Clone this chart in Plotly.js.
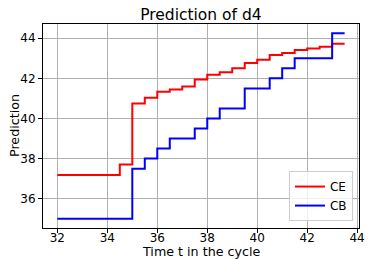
<!DOCTYPE html>
<html>
<head>
<meta charset="utf-8">
<script src="https://cdn.plot.ly/plotly-3.0.1.min.js"></script>
<style>html,body{margin:0;padding:0;background:#fff;}#chart{width:368px;height:259px;}</style>
</head>
<body>
<div id="chart"></div>
<script>
const timeT = [32, 34.5, 35, 35.5, 36, 36.5, 37, 37.5, 38, 38.5, 39, 39.5, 40, 40.5, 41, 41.5, 42, 42.5, 43, 43.5];
const predCE = [37.18, 37.71, 40.75, 41.03, 41.33, 41.44, 41.6, 41.94, 42.18, 42.3, 42.51, 42.76, 42.93, 43.16, 43.26, 43.42, 43.49, 43.58, 43.73, 43.73];
const predCB = [35.0, 35.0, 37.5, 38.0, 38.5, 39.0, 39.0, 39.5, 40.0, 40.5, 40.5, 41.5, 41.5, 42.0, 42.5, 43.0, 43.0, 43.0, 44.25, 44.25];
const xTicks = [32, 34, 36, 38, 40, 42, 44];
const yTicks = [36, 38, 40, 42, 44];
const xLabel = "Time t in the cycle";
const yLabel = "Prediction";

const font = "DejaVu Sans, sans-serif";
const traces = [
  {x: timeT, y: predCE, name: "CE", mode: "lines", line: {shape: "hv", color: "#ff0000", width: 2}},
  {x: timeT, y: predCB, name: "CB", mode: "lines", line: {shape: "hv", color: "#0000ff", width: 2}}
];
const axisCommon = {
  showline: true, mirror: true, linecolor: "#000", linewidth: 1,
  ticks: "outside", ticklen: 4, tickcolor: "#000", tickwidth: 1,
  showgrid: true, gridcolor: "#b0b0b0", gridwidth: 1, zeroline: false,
  tickfont: {family: font, size: 12, color: "#000"}
};
const layout = {
  width: 368, height: 259,
  margin: {l: 43, r: 9, t: 24, b: 31},
  paper_bgcolor: "#fff", plot_bgcolor: "#fff",
  font: {family: font, color: "#000"},
  title: {text: "Prediction of d4", font: {family: font, size: 15.5, color: "#000"}, x: 0.546, xanchor: "center", y: 0.945, yanchor: "middle"},
  xaxis: Object.assign({}, axisCommon, {range: [31.425, 44.075], tickvals: xTicks, ticktext: xTicks.map(String), ticklabelstandoff: -5}),
  yaxis: Object.assign({}, axisCommon, {range: [34.54, 44.71], tickvals: yTicks, ticktext: yTicks.map(String)}),
  annotations: [
    {text: xLabel, xref: "paper", yref: "paper", x: 0.5, y: 0, xanchor: "center", yanchor: "middle", yshift: -23.5,
      borderpad: 0, showarrow: false, font: {family: font, size: 12.7, color: "#000"}},
    {text: yLabel, xref: "paper", yref: "paper", x: 0, y: 0.5, xanchor: "center", yanchor: "middle", xshift: -29,
      borderpad: 0, textangle: -90, showarrow: false, font: {family: font, size: 12.7, color: "#000"}}
  ],
  showlegend: true,
  legend: {x: 0.981, xanchor: "right", y: 0.034, yanchor: "bottom", bgcolor: "rgba(255,255,255,0.8)",
    bordercolor: "#cccccc", borderwidth: 1, font: {family: font, size: 12, color: "#000"}, tracegroupgap: 0}
};
Plotly.newPlot("chart", traces, layout, {displayModeBar: false, staticPlot: true});
</script>
</body>
</html>
